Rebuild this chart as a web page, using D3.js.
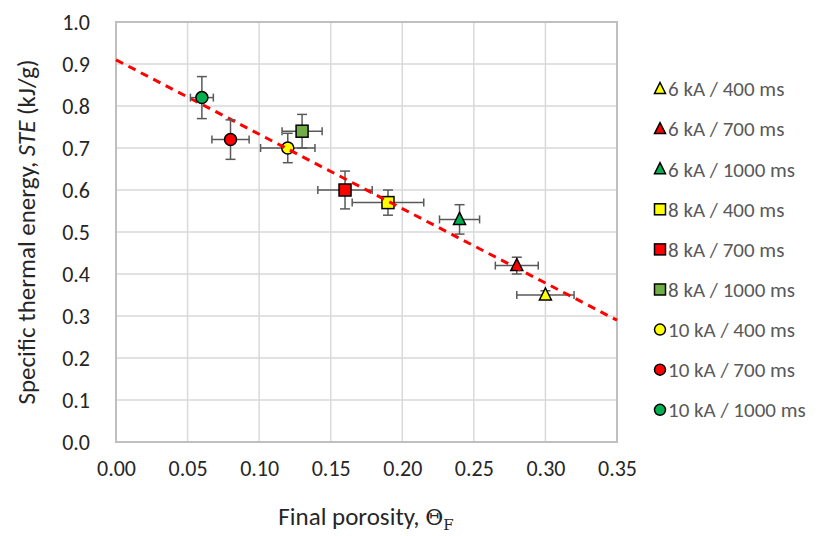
<!DOCTYPE html>
<html><head><meta charset="utf-8">
<script src="https://cdn.jsdelivr.net/npm/d3@7"></script>
<style>body{margin:0;background:#fff;} svg{display:block;font-family:Carlito,Calibri,Lato,"Open Sans",sans-serif;}</style>
</head><body>
<svg id="c" width="816" height="536"></svg>
<script>
const seriesNames = ["6 kA / 400 ms","6 kA / 700 ms","6 kA / 1000 ms","8 kA / 400 ms","8 kA / 700 ms","8 kA / 1000 ms","10 kA / 400 ms","10 kA / 700 ms","10 kA / 1000 ms"];
const porosity = [0.30, 0.28, 0.24, 0.19, 0.16, 0.13, 0.12, 0.08, 0.06];
const ste = [0.35, 0.42, 0.53, 0.57, 0.60, 0.74, 0.70, 0.72, 0.82];
const porosityErr = [0.020, 0.015, 0.014, 0.025, 0.019, 0.014, 0.019, 0.013, 0.008];
const steErr = [0.010, 0.020, 0.035, 0.030, 0.045, 0.040, 0.035, 0.047, 0.050];
const shapes = ["triangle","triangle","triangle","square","square","square","circle","circle","circle"];
const fills = ["#FFFF00","#FF0000","#00B050","#FFFF00","#FF0000","#70AD47","#FFFF00","#FF0000","#00B050"];
const xTicks = [0,0.05,0.10,0.15,0.20,0.25,0.30,0.35];
const yTicks = [0,0.1,0.2,0.3,0.4,0.5,0.6,0.7,0.8,0.9,1.0];
const trendX = [0, 0.35];
const trendY = [0.91, 0.29];
const trendAfterSeries = 6;

const svg = d3.select("#c");
const L=116, R=617, T=22, B=442;
const x = d3.scaleLinear().domain([0,0.35]).range([L,R]);
const y = d3.scaleLinear().domain([0,1]).range([B,T]);
const textCol = "#262626";
const legCol = "#595959";

// gridlines
svg.append("g").selectAll("line").data(xTicks).join("line")
  .attr("x1",d=>x(d)).attr("x2",d=>x(d)).attr("y1",T).attr("y2",B)
  .attr("stroke","#d9d9d9").attr("stroke-width",1.5);
svg.append("g").selectAll("line").data(yTicks).join("line")
  .attr("y1",d=>y(d)).attr("y2",d=>y(d)).attr("x1",L).attr("x2",R)
  .attr("stroke","#d9d9d9").attr("stroke-width",1.5);
svg.append("rect").attr("x",L).attr("y",T).attr("width",R-L).attr("height",B-T)
  .attr("fill","none").attr("stroke","#bfbfbf").attr("stroke-width",2);

// axes (ticks as text)
const xa = svg.append("g").attr("transform",`translate(0,${B})`).call(d3.axisBottom(x).tickValues(xTicks).tickFormat(d3.format(".2f")).tickSize(0).tickPadding(18));
const ya = svg.append("g").attr("transform",`translate(${L},0)`).call(d3.axisLeft(y).tickValues(yTicks).tickFormat(d3.format(".1f")).tickSize(0).tickPadding(26));
[xa,ya].forEach(a=>{a.select(".domain").remove(); a.selectAll("text").attr("font-size",22).attr("fill",textCol).attr("font-family","Carlito,Calibri,Lato,sans-serif");});
ya.selectAll("text").attr("dy","0.35em");

// titles
const yt = svg.append("text").attr("transform","translate(35,232) rotate(-90)").attr("text-anchor","middle")
  .attr("font-size",25).attr("fill",textCol);
yt.append("tspan").text("Specific thermal energy, ");
yt.append("tspan").attr("font-style","italic").text("STE");
yt.append("tspan").text(" (kJ/g)");
const xt = svg.append("text").attr("x",366).attr("y",525).attr("text-anchor","middle").attr("font-size",25).attr("fill",textCol);
xt.append("tspan").text("Final porosity, ");
xt.append("tspan").attr("font-family","'DejaVu Serif',serif").attr("font-size",22).text("Θ");
xt.append("tspan").attr("font-size",15).attr("dy",5).attr("font-family","'DejaVu Serif',serif").text("F");

function marker(g, shape, fill, cx, cy, s){
  if(shape==="circle") g.append("circle").attr("cx",cx).attr("cy",cy).attr("r",s)
    .attr("fill",fill).attr("stroke","#000").attr("stroke-width",1.5);
  else if(shape==="square") g.append("rect").attr("x",cx-s).attr("y",cy-s).attr("width",2*s).attr("height",2*s)
    .attr("fill",fill).attr("stroke","#000").attr("stroke-width",1.5);
  else g.append("path").attr("d",`M${cx},${cy-s-1}L${cx+s},${cy+s-1}L${cx-s},${cy+s-1}Z`)
    .attr("fill",fill).attr("stroke","#000").attr("stroke-width",1.5).attr("stroke-linejoin","miter");
}

const plot = svg.append("g");
const ebCol = "#595959";
function drawSeries(i){
  const g = plot.append("g");
  const cx=x(porosity[i]), cy=y(ste[i]);
  const x0=x(porosity[i]-porosityErr[i]), x1=x(porosity[i]+porosityErr[i]);
  const y0=y(ste[i]-steErr[i]), y1=y(ste[i]+steErr[i]);
  const st = {stroke:ebCol,"stroke-width":1.5};
  const ln=(a,b,c,d)=>{const l=g.append("line").attr("x1",a).attr("y1",b).attr("x2",c).attr("y2",d); for(const k in st) l.attr(k,st[k]);};
  ln(x0,cy,x1,cy); ln(x0,cy-4,x0,cy+4); ln(x1,cy-4,x1,cy+4);
  ln(cx,y0,cx,y1); ln(cx-5,y0,cx+5,y0); ln(cx-5,y1,cx+5,y1);
  marker(g, shapes[i], fills[i], cx, cy, 6);
}
function drawTrend(){
  plot.append("line").attr("x1",x(trendX[0])).attr("y1",y(trendY[0])).attr("x2",x(trendX[1])).attr("y2",y(trendY[1]))
    .attr("stroke","#FF0000").attr("stroke-width",3).attr("stroke-dasharray","8,6");
}
seriesNames.forEach((n,i)=>{ drawSeries(i); if(i===trendAfterSeries) drawTrend(); });

// legend
const lg = svg.append("g");
seriesNames.forEach((n,i)=>{
  const yy = 89 + i*40.1;
  marker(lg, shapes[i], fills[i], 660, yy, 5.5);
  lg.append("text").attr("x",668).attr("y",yy).attr("dy","0.35em").attr("font-size",21).attr("fill",legCol).text(n);
});
</script>
</body></html>
